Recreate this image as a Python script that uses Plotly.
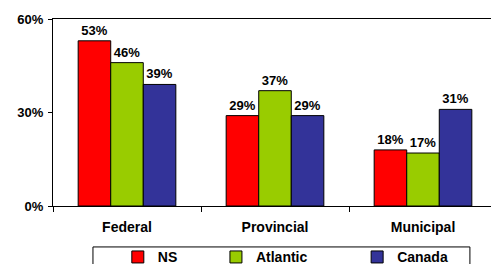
import plotly.graph_objects as go

categories = ["Federal", "Provincial", "Municipal"]
series_names = ["NS", "Atlantic", "Canada"]
ns_values = [53, 29, 18]
atlantic_values = [46, 37, 17]
canada_values = [39, 29, 31]
y_ticks = [0, 30, 60]
y_tick_labels = ["0%", "30%", "60%"]

colors = ["#FF0000", "#99CC00", "#333399"]
legend_ids = ["legend", "legend2", "legend3"]
legend_x = [0.146, 0.367, 0.685]
font_family = "Liberation Sans, Arial, sans-serif"

fig = go.Figure()
for name, vals, col, lg in zip(series_names, [ns_values, atlantic_values, canada_values], colors, legend_ids):
    fig.add_trace(go.Bar(
        x=categories, y=vals, name=name, legend=lg,
        marker=dict(color=col, line=dict(color="black", width=1)),
        text=[f"{v}%" for v in vals], textposition="outside",
        textfont=dict(family=font_family, size=13, color="black", weight="bold"),
        cliponaxis=False,
    ))

legend_style = dict(
    orientation="h", y=-0.189, xanchor="left", yanchor="top",
    font=dict(family=font_family, size=14, color="black", weight="bold"),
    bgcolor="rgba(0,0,0,0)", itemclick=False, itemwidth=30,
)
layout_legends = {}
for lg, lx in zip(legend_ids, legend_x):
    layout_legends[lg] = dict(legend_style, x=lx)

fig.update_layout(
    width=491, height=256,
    margin=dict(l=45, r=2, t=11, b=58, autoexpand=False),
    paper_bgcolor="white", plot_bgcolor="white",
    barmode="group", bargap=0.34, bargroupgap=0,
    font=dict(family=font_family, size=13, color="black", weight="bold"),
    showlegend=True,
    shapes=[dict(type="rect", xref="paper", yref="paper",
                 x0=0.09, x1=0.939, y0=-0.219, y1=-0.40,
                 line=dict(color="black", width=1), fillcolor="rgba(0,0,0,0)")],
    **layout_legends,
)
fig.update_xaxes(
    showline=True, linecolor="black", linewidth=1, mirror=True,
    ticks="outside", tickson="boundaries", ticklen=5, tickcolor="black",
    tickfont=dict(family=font_family, size=14, color="black", weight="bold"),
    ticklabelstandoff=8,
    showgrid=False, automargin=False,
)
fig.update_yaxes(
    range=[0, 60], tickvals=y_ticks, ticktext=y_tick_labels,
    showline=True, linecolor="black", linewidth=1, mirror=True,
    ticks="outside", ticklen=4, tickcolor="black",
    tickfont=dict(family=font_family, size=13, color="black", weight="bold"),
    ticklabelstandoff=2,
    showgrid=False, zeroline=False, automargin=False,
)
fig.write_html("out.html")
